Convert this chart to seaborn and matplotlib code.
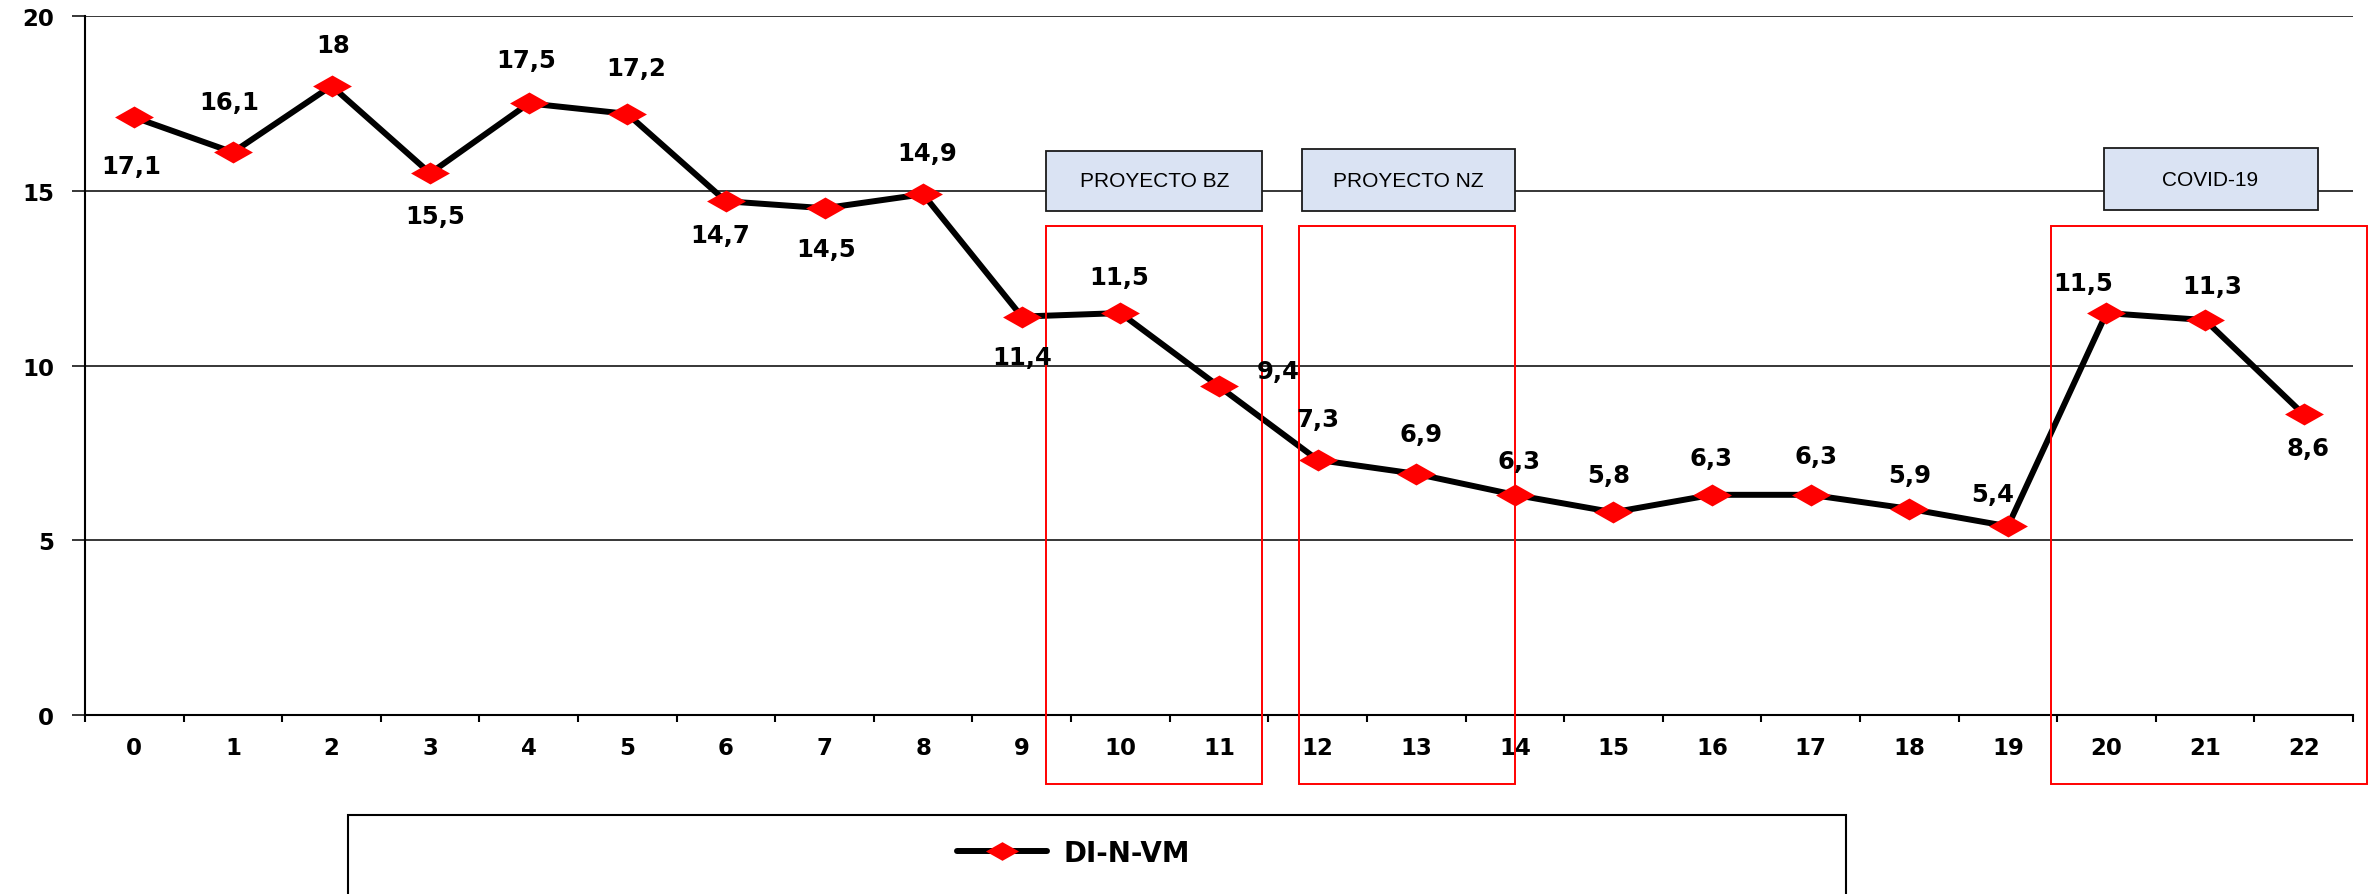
import matplotlib
matplotlib.use("Agg")
import numpy as np
import pandas as pd
import matplotlib.pyplot as plt
import seaborn as sns
from matplotlib.path import Path
from matplotlib.patches import Rectangle

# --- data -------------------------------------------------------------
periods = list(range(23))
di_n_vm = [17.1, 16.1, 18, 15.5, 17.5, 17.2, 14.7, 14.5, 14.9, 11.4, 11.5, 9.4,
           7.3, 6.9, 6.3, 5.8, 6.3, 6.3, 5.9, 5.4, 11.5, 11.3, 8.6]
y_ticks = [0, 5, 10, 15, 20]
series_name = "DI-N-VM"
event_names = ["PROYECTO BZ", "PROYECTO NZ", "COVID-19"]

# --- layout: label offsets (points) and event boxes (data units) -------
label_offsets = [(-2, -35), (-3, 36), (1, 29.5), (4, -31), (-2, 31), (6.5, 33),
                 (-4, -24.5), (1, -29.5), (3, 30), (0, -29), (-1, 26), (42.5, 11.5),
                 (0, 29.5), (3.5, 29), (3, 24), (-3.5, 26.6), (-1, 26.6), (3.5, 28),
                 (0, 24.5), (-11, 23), (-16.5, 22), (5, 24.5), (3, -24.5)]
event_frames = [(9.25, 11.44), (11.81, 14.0), (19.44, 22.64)]
frame_y = (-1.97, 14.0)
event_tags = [(9.25, 11.44, 14.42, 16.14), (11.84, 14.0, 14.42, 16.19),
              (19.97, 22.14, 14.45, 16.22)]

df = pd.DataFrame({"periodo": periods, series_name: di_n_vm})

sns.set_style("white")
plt.rcParams["font.family"] = ["DejaVu Sans"]
plt.rcParams.update({"text.color": "black", "axes.labelcolor": "black",
                     "xtick.color": "black", "ytick.color": "black"})

fig = plt.figure(figsize=(23.71, 8.95), dpi=100)
ax = fig.add_axes([0.03585, 0.2, 0.95656, 0.781])

diamond = Path([(-1, 0), (0, 0.565), (1, 0), (0, -0.565), (-1, 0)],
               [Path.MOVETO, Path.LINETO, Path.LINETO, Path.LINETO, Path.CLOSEPOLY])

sns.lineplot(data=df, x="periodo", y=series_name, ax=ax, color="black",
             linewidth=4.3, marker=diamond, markersize=28,
             markerfacecolor="red", markeredgecolor="red", markeredgewidth=0,
             legend=False, zorder=3)

# value labels with comma decimals
for x, v, (dx, dy) in zip(periods, di_n_vm, label_offsets):
    txt = f"{v:g}".replace(".", ",")
    ax.annotate(txt, (x, v), xytext=(dx, dy), textcoords="offset points",
                ha="center", va="center", fontsize=17.5, fontweight="bold",
                color="black", zorder=7)

# axes styling
ax.set_xlim(-0.5, 22.5)
ax.set_ylim(0, 20)
ax.set_yticks(y_ticks)
ax.set_xticks(periods)
ax.set_xticklabels([str(p) for p in periods])
ax.set_xticks(np.arange(-0.5, 23, 1), minor=True)
ax.set_xlabel("")
ax.set_ylabel("")
ax.tick_params(axis="x", which="major", bottom=True, length=0, pad=15,
               labelsize=16.5, labelcolor="black")
ax.tick_params(axis="x", which="minor", bottom=True, length=5, width=1.5,
               direction="out", color="black")
ax.tick_params(axis="y", left=True, length=9.4, width=1.1, pad=13,
               labelsize=16.5, color="black", labelcolor="black", direction="out")
for lbl in ax.get_xticklabels() + ax.get_yticklabels():
    lbl.set_fontweight("bold")
ax.grid(axis="y", color="black", linewidth=1.1)
ax.grid(axis="x", visible=False)
ax.set_axisbelow(True)
for side in ("top", "right"):
    ax.spines[side].set_visible(False)
for side in ("left", "bottom"):
    ax.spines[side].set_color("black")
    ax.spines[side].set_linewidth(1.5)

# event frames (red) and tags (blue)
for x0, x1 in event_frames:
    ax.add_patch(Rectangle((x0, frame_y[0]), x1 - x0, frame_y[1] - frame_y[0],
                           fill=False, edgecolor="red", linewidth=1.4,
                           clip_on=False, zorder=6))
for name, (x0, x1, y0, y1) in zip(event_names, event_tags):
    ax.add_patch(Rectangle((x0, y0), x1 - x0, y1 - y0, facecolor="#DAE3F3",
                           edgecolor="#1a1a1a", linewidth=1.3, clip_on=False,
                           zorder=4))
    ax.text((x0 + x1) / 2, (y0 + y1) / 2, name, ha="center", va="center",
            fontsize=15, family="Liberation Sans", color="black", zorder=5)

# legend below the plot
leg = fig.legend([ax.lines[0]], [series_name], loc="center left",
                 bbox_to_anchor=(957 / 2371, 1 - 854 / 895),
                 bbox_transform=fig.transFigure, frameon=False, borderpad=0,
                 borderaxespad=0, handlelength=3.25, handletextpad=0.58,
                 markerscale=0.85, prop={"weight": "bold", "size": 20})
for t in leg.get_texts():
    t.set_color("black")
fig.add_artist(Rectangle((0.1468, -0.05), 0.6318, 0.1383,
                         transform=fig.transFigure, fill=False,
                         edgecolor="black", linewidth=1.5))

fig.savefig("out.png", dpi=100)
